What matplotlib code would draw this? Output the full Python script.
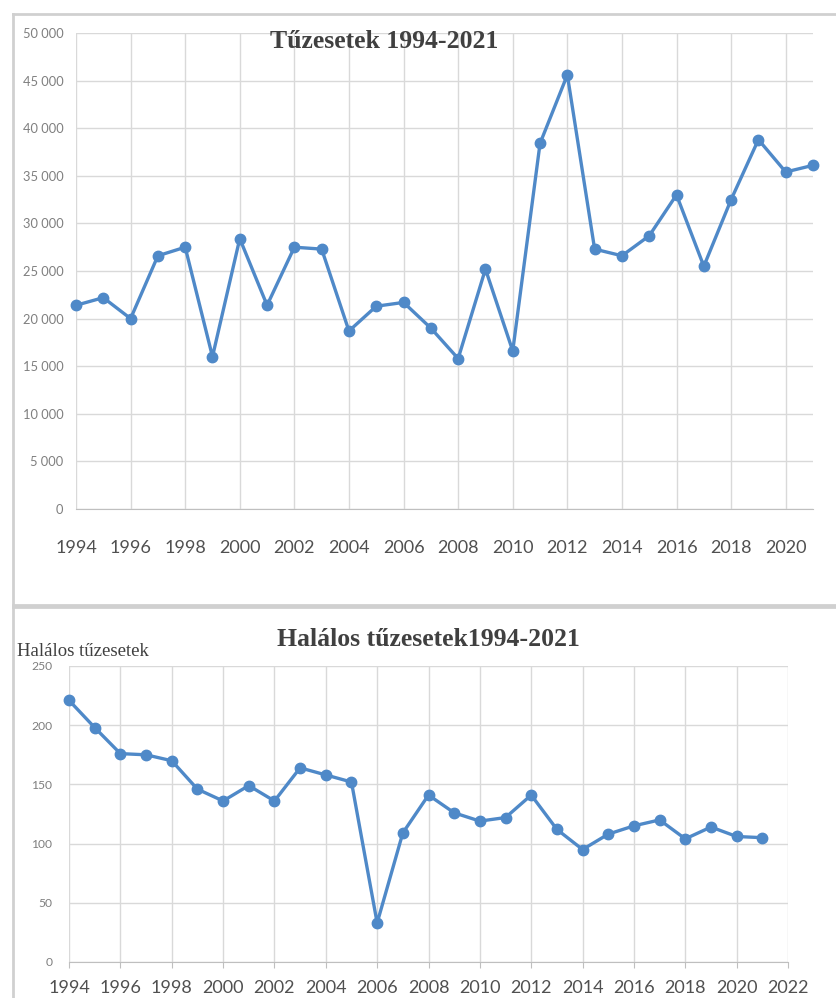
import numpy as np
import matplotlib
matplotlib.use('Agg')
import matplotlib.pyplot as plt
from matplotlib.ticker import FuncFormatter, MultipleLocator
from matplotlib.lines import Line2D

# Dados
evek = np.arange(1994, 2022)

tuzesetek = [21400, 22200, 20000, 26600, 27500, 16000, 28400, 21400, 27500, 27300,
             18700, 21300, 21700, 19000, 15800, 25200, 16600, 38400, 45600, 27300,
             26600, 28700, 33000, 25500, 32500, 38800, 35400, 36100]

halalos = [221, 198, 176, 175, 170, 146, 136, 149, 136, 164,
           158, 152, 33, 109, 141, 126, 119, 122, 141, 112,
           95, 108, 115, 120, 104, 114, 106, 105]

titulo_1 = 'Tűzesetek 1994-2021'
titulo_2 = 'Halálos tűzesetek1994-2021'
rotulo_y_2 = 'Halálos tűzesetek'

cor_linha = '#4F89C8'
cor_grade = '#D9D9D9'
fonte_num = ['Lato', 'DejaVu Sans']
fonte_tit = ['Liberation Serif', 'DejaVu Serif']

W, H = 837, 998
fig = plt.figure(figsize=(W / 100, H / 100), dpi=100)
fig.patch.set_facecolor('white')


def px(x0, y0, x1, y1):
    # caixa em pixels -> fração da figura
    return [x0 / W, 1 - y1 / H, (x1 - x0) / W, (y1 - y0) / H]


milhar = FuncFormatter(lambda v, p: f'{int(v):,}'.replace(',', ' '))

# Molduras dos dois gráficos
for (xa, ya, xb, yb) in [(13, 14, W, 14), (13, 14, 13, 605), (13, 605, W, 605),
                         (13, 607, W, 607), (13, 607, 13, H)]:
    fig.add_artist(Line2D([xa / W, xb / W], [1 - ya / H, 1 - yb / H],
                          color='#D0D0D0', lw=2, transform=fig.transFigure))

# Gráfico 1: Tűzesetek
ax1 = fig.add_axes(px(76, 33, 813, 509))
ax1.plot(evek, tuzesetek, color=cor_linha, lw=2.4, marker='o', markersize=7.5,
         zorder=3, clip_on=False)
ax1.set_xlim(1994, 2021)
ax1.set_ylim(0, 50000)
ax1.xaxis.set_major_locator(MultipleLocator(2))
ax1.yaxis.set_major_locator(MultipleLocator(5000))
ax1.yaxis.set_major_formatter(milhar)
ax1.grid(True, color=cor_grade, lw=1)
ax1.set_axisbelow(True)
for s in ['top', 'right', 'left']:
    ax1.spines[s].set_visible(False)
ax1.spines['bottom'].set_color('#BFBFBF')
ax1.tick_params(axis='both', length=0)
ax1.tick_params(axis='x', pad=22, labelsize=13, labelcolor='#505050')
ax1.tick_params(axis='y', pad=9, labelsize=9.3, labelcolor='#7F7F7F')
for t in ax1.get_xticklabels() + ax1.get_yticklabels():
    t.set_family(fonte_num)
fig.text(384 / W, 1 - 42 / H, titulo_1, ha='center', va='center', fontsize=18.5,
         fontweight='bold', color='#404040', family=fonte_tit)

# Gráfico 2: Halálos tűzesetek
ax2 = fig.add_axes(px(69, 666, 788, 962))
ax2.plot(evek, halalos, color=cor_linha, lw=2.4, marker='o', markersize=7.5,
         zorder=3, clip_on=False)
ax2.set_xlim(1994, 2022)
ax2.set_ylim(0, 250)
ax2.xaxis.set_major_locator(MultipleLocator(2))
ax2.yaxis.set_major_locator(MultipleLocator(50))
ax2.grid(True, color=cor_grade, lw=1)
ax2.set_axisbelow(True)
for s in ['top', 'right', 'left']:
    ax2.spines[s].set_visible(False)
ax2.spines['bottom'].set_color('#BFBFBF')
ax2.tick_params(axis='x', length=4, color='#BFBFBF', pad=9, labelsize=13, labelcolor='#505050')
ax2.tick_params(axis='y', length=0, pad=12, labelsize=8.7, labelcolor='#7F7F7F')
for t in ax2.get_xticklabels() + ax2.get_yticklabels():
    t.set_family(fonte_num)
fig.text(428 / W, 1 - 640 / H, titulo_2, ha='center', va='center', fontsize=18.5,
         fontweight='bold', color='#404040', family=fonte_tit)
fig.text(17 / W, 1 - 651 / H, rotulo_y_2, ha='left', va='center', fontsize=13.5,
         color='#404040', family=fonte_tit)

plt.savefig('out.png', dpi=100)
